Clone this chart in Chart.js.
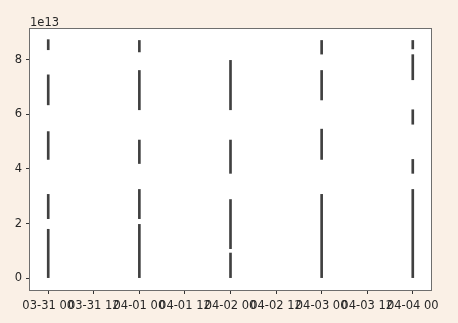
<!DOCTYPE html>
<html>
<head>
<meta charset="utf-8">
<script src="https://cdn.jsdelivr.net/npm/chart.js@4"></script>
<style>
  html, body { margin: 0; padding: 0; background: #faf0e6; }
  #wrap { width: 458px; height: 323px; }
</style>
</head>
<body>
<div id="wrap"><canvas id="c" width="458" height="323"></canvas></div>
<script>
// x positions in hours from 03-31 00:00
const dayHours = [0, 24, 48, 72, 96];

// vertical segments per day, [low, high]
const day0331 = [[0, 1.79e13], [2.18e13, 3.07e13], [4.35e13, 5.37e13], [6.35e13, 7.45e13], [8.37e13, 8.74e13]];
const day0401 = [[0, 1.97e13], [2.18e13, 3.25e13], [4.2e13, 5.06e13], [6.17e13, 7.61e13], [8.29e13, 8.71e13]];
const day0402 = [[0, 0.92e13], [1.08e13, 2.88e13], [3.84e13, 5.06e13], [6.17e13, 7.98e13]];
const day0403 = [[0, 3.07e13], [4.35e13, 5.46e13], [6.53e13, 7.61e13], [8.21e13, 8.71e13]];
const day0404 = [[0, 3.25e13], [3.84e13, 4.35e13], [5.64e13, 6.17e13], [7.27e13, 8.19e13], [8.4e13, 8.71e13]];
const daySegments = [day0331, day0401, day0402, day0403, day0404];

const xTickValues = [0, 12, 24, 36, 48, 60, 72, 84, 96];
const xTickLabels = ['03-31 00', '03-31 12', '04-01 00', '04-01 12', '04-02 00',
  '04-02 12', '04-03 00', '04-03 12', '04-04 00'];
const yTickValues = [0, 2e13, 4e13, 6e13, 8e13];

const FONT = { family: '"DejaVu Sans", sans-serif', size: 11.5 };
const TXT = '#262626';

// white axes face + four spines + "1e13" offset text, like matplotlib
const axesFrame = {
  id: 'axes-frame',
  beforeDatasetsDraw(chart) {
    const { ctx, chartArea: a } = chart;
    ctx.save();
    ctx.fillStyle = '#ffffff';
    ctx.fillRect(a.left, a.top, a.right - a.left, a.bottom - a.top);
    ctx.restore();
  },
  afterDraw(chart) {
    const { ctx, chartArea: a } = chart;
    ctx.save();
    ctx.strokeStyle = '#6e6e6e';
    ctx.lineWidth = 1;
    ctx.strokeRect(Math.round(a.left) - 0.5, Math.round(a.top) - 0.5,
      Math.round(a.right - a.left) + 1, Math.round(a.bottom - a.top) + 1);
    ctx.font = `${FONT.size}px ${FONT.family}`;
    ctx.fillStyle = TXT;
    ctx.textAlign = 'left';
    ctx.textBaseline = 'alphabetic';
    ctx.fillText('1e13', a.left, a.top - 3);
    ctx.restore();
  },
};

const datasets = daySegments.map((segs, i) => ({
  data: segs.map(s => ({ x: dayHours[i], y: s })),
  backgroundColor: '#404040',
  borderWidth: 0,
  barThickness: 2,
  grouped: false,
}));

new Chart(document.getElementById('c'), {
  type: 'bar',
  data: { datasets },
  options: {
    responsive: false,
    animation: false,
    layout: { padding: { top: 29, right: 27, left: 0, bottom: 0 } },
    scales: {
      x: {
        type: 'linear',
        offset: false,
        min: -4.8,
        max: 100.8,
        afterBuildTicks: axis => { axis.ticks = xTickValues.map(v => ({ value: v })); },
        afterFit: axis => { axis.height = 33; },
        ticks: {
          autoSkip: false,
          maxRotation: 0,
          minRotation: 0,
          padding: 5,
          color: TXT,
          font: FONT,
          callback: v => xTickLabels[xTickValues.indexOf(v)],
        },
        grid: { offset: false, drawOnChartArea: false, tickLength: 4, tickColor: '#333', tickWidth: 1 },
        border: { display: false },
      },
      y: {
        type: 'linear',
        min: -0.435e13,
        max: 9.13e13,
        afterBuildTicks: axis => { axis.ticks = yTickValues.map(v => ({ value: v })); },
        afterFit: axis => { axis.width = 30; },
        ticks: {
          padding: 4,
          color: TXT,
          font: FONT,
          callback: v => String(Math.round(v / 1e13)),
        },
        grid: { drawOnChartArea: false, tickLength: 4, tickColor: '#333', tickWidth: 1 },
        border: { display: false },
      },
    },
    plugins: {
      legend: { display: false },
      tooltip: { enabled: false },
    },
  },
  plugins: [axesFrame],
});
</script>
</body>
</html>
